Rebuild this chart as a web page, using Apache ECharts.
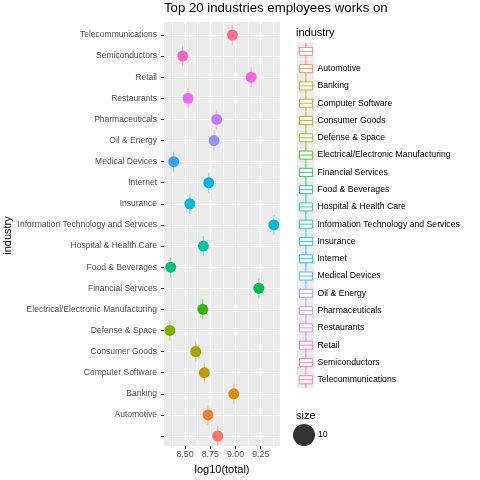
<!DOCTYPE html>
<html><head><meta charset="utf-8">
<script src="https://cdn.jsdelivr.net/npm/echarts@6/dist/echarts.min.js"></script>
<style>html,body{margin:0;padding:0;background:#fff}#c{width:480px;height:480px}</style>
</head><body><div id="c"></div>
<script>
var categories = ['', 'Automotive', 'Banking', 'Computer Software', 'Consumer Goods', 'Defense & Space',
  'Electrical/Electronic Manufacturing', 'Financial Services', 'Food & Beverages', 'Hospital & Health Care',
  'Information Technology and Services', 'Insurance', 'Internet', 'Medical Devices', 'Oil & Energy',
  'Pharmaceuticals', 'Restaurants', 'Retail', 'Semiconductors', 'Telecommunications'];
var values = [8.824, 8.728, 8.983, 8.691, 8.606, 8.351, 8.676, 9.231, 8.358, 8.682,
  9.38, 8.547, 8.735, 8.388, 8.788, 8.814, 8.53, 9.155, 8.477, 8.969];
var colors = ['#F8766D','#EA8331','#D89000','#C09B00','#A3A500','#7CAE00','#39B600','#00BB4E','#00BF7D','#00C1A3',
  '#00BFC4','#00BAE0','#00B0F6','#35A2FF','#9590FF','#C77CFF','#E76BF3','#FA62DB','#FF62BC','#FF6C91'];
var majorTicks = [8.5, 8.75, 9.0, 9.25];
var minorTicks = [8.375, 8.625, 8.875, 9.125, 9.375];
var xMin = 8.292, xMax = 9.441;
var sizeLegend = ['10'];

var FONT = 'Liberation Sans, Arial, sans-serif';
var names = categories.map(function (c) { return c === '' ? ' ' : c; });
var boxIcon = 'path://M6.5,0L6.5,4.5M0,4.5L13,4.5L13,12.5L0,12.5ZM0,8.5L13,8.5M6.5,12.5L6.5,17';

var series = [{
  type: 'custom', name: 'whiskers', xAxisIndex: 2, yAxisIndex: 1, silent: true,
  data: values.map(function (v, i) { return [v, i]; }),
  renderItem: function (params, api) {
    var p = api.coord([api.value(0), api.value(1)]);
    return { type: 'line', shape: { x1: p[0], y1: p[1] - 10, x2: p[0], y2: p[1] + 10 },
      style: { stroke: colors[params.dataIndex], opacity: 0.45, lineWidth: 1.1 } };
  }
}];
values.forEach(function (v, i) {
  series.push({
    type: 'scatter', name: names[i], xAxisIndex: 2, yAxisIndex: 1,
    symbol: 'circle', symbolSize: 11,
    itemStyle: { color: colors[i], opacity: 1 },
    data: [[v, i]]
  });
});
series.push({ type: 'scatter', name: sizeLegend[0], xAxisIndex: 2, yAxisIndex: 1,
  itemStyle: { color: '#333333', opacity: 1 }, data: [] });

var option = {
  animation: false,
  textStyle: { fontFamily: FONT },
  title: [
    { text: 'Top 20 industries employees works on', left: 164, top: 2, padding: 0,
      textStyle: { fontSize: 13.2, fontWeight: 'normal', color: '#000', fontFamily: FONT } },
    { text: 'industry', left: 296, top: 27, padding: 0,
      textStyle: { fontSize: 11, fontWeight: 'normal', color: '#000', fontFamily: FONT } },
    { text: 'size', left: 296, top: 410, padding: 0,
      textStyle: { fontSize: 11, fontWeight: 'normal', color: '#000', fontFamily: FONT } }
  ],
  grid: [
    { left: 164, top: 22, width: 116, height: 427, show: true, backgroundColor: '#ebebeb', borderWidth: 0 },
    { left: 164, top: 35, width: 116, height: 401 }
  ],
  xAxis: [
    { type: 'value', gridIndex: 0, min: xMin, max: xMax,
      name: 'log10(total)', nameLocation: 'middle', nameGap: 14,
      nameTextStyle: { fontSize: 11, color: '#000', fontFamily: FONT },
      axisLine: { show: false },
      axisTick: { show: true, length: 3, customValues: majorTicks, lineStyle: { color: '#333', width: 1 } },
      axisLabel: { customValues: majorTicks, fontSize: 8.8, color: '#4d4d4d', margin: 4, fontFamily: FONT,
        formatter: function (v) { return v.toFixed(2); } },
      splitLine: { show: true, lineStyle: { color: '#ffffff', width: 1.1 } } },
    { type: 'value', gridIndex: 0, min: xMin, max: xMax,
      axisLine: { show: false }, axisLabel: { show: false },
      axisTick: { show: false, customValues: minorTicks },
      splitLine: { show: true, lineStyle: { color: '#ffffff', width: 0.55 } } },
    { type: 'value', gridIndex: 1, min: xMin, max: xMax, show: false, splitLine: { show: false } }
  ],
  yAxis: [
    { type: 'value', gridIndex: 0, show: false, splitLine: { show: false } },
    { type: 'category', gridIndex: 1, data: categories, boundaryGap: false,
      name: 'industry', nameLocation: 'middle', nameRotate: 90, nameGap: 145,
      nameTextStyle: { fontSize: 11, color: '#000', fontFamily: FONT },
      axisLine: { show: false },
      axisTick: { show: true, length: 3, interval: 0, lineStyle: { color: '#333', width: 1 } },
      axisLabel: { interval: 0, fontSize: 8.5, color: '#4d4d4d', margin: 7, fontFamily: FONT },
      splitLine: { show: true, interval: 0, lineStyle: { color: '#ffffff', width: 1.1 } } }
  ],
  legend: [
    { orient: 'vertical', left: 297, top: 42.5, padding: 0, itemGap: 0.28, itemWidth: 17, itemHeight: 17,
      icon: 'rect', data: names.slice(), selectedMode: false,
      itemStyle: { color: '#ebebeb', borderWidth: 0 },
      formatter: function () { return ''; } },
    { orient: 'vertical', left: 299, top: 42.5, padding: 0, itemGap: -0.52, itemWidth: 13, itemHeight: 17,
      icon: boxIcon, selectedMode: false,
      data: names.map(function (n, i) {
        return { name: n, itemStyle: { color: '#ffffff', borderColor: colors[i], borderWidth: 0.8 } };
      }),
      textStyle: { fontSize: 8.7, color: '#000', fontFamily: FONT } },
    { orient: 'vertical', left: 293, top: 424, padding: 0, itemWidth: 22, itemHeight: 22,
      icon: 'circle', selectedMode: false, data: sizeLegend,
      itemStyle: { color: '#333333', opacity: 1 },
      textStyle: { fontSize: 8.7, color: '#000', fontFamily: FONT, padding: [0, 0, 0, -2] } }
  ],
  series: series
};
var chart = echarts.init(document.getElementById('c'), null, { renderer: 'canvas' });
chart.setOption(option);
</script></body></html>
